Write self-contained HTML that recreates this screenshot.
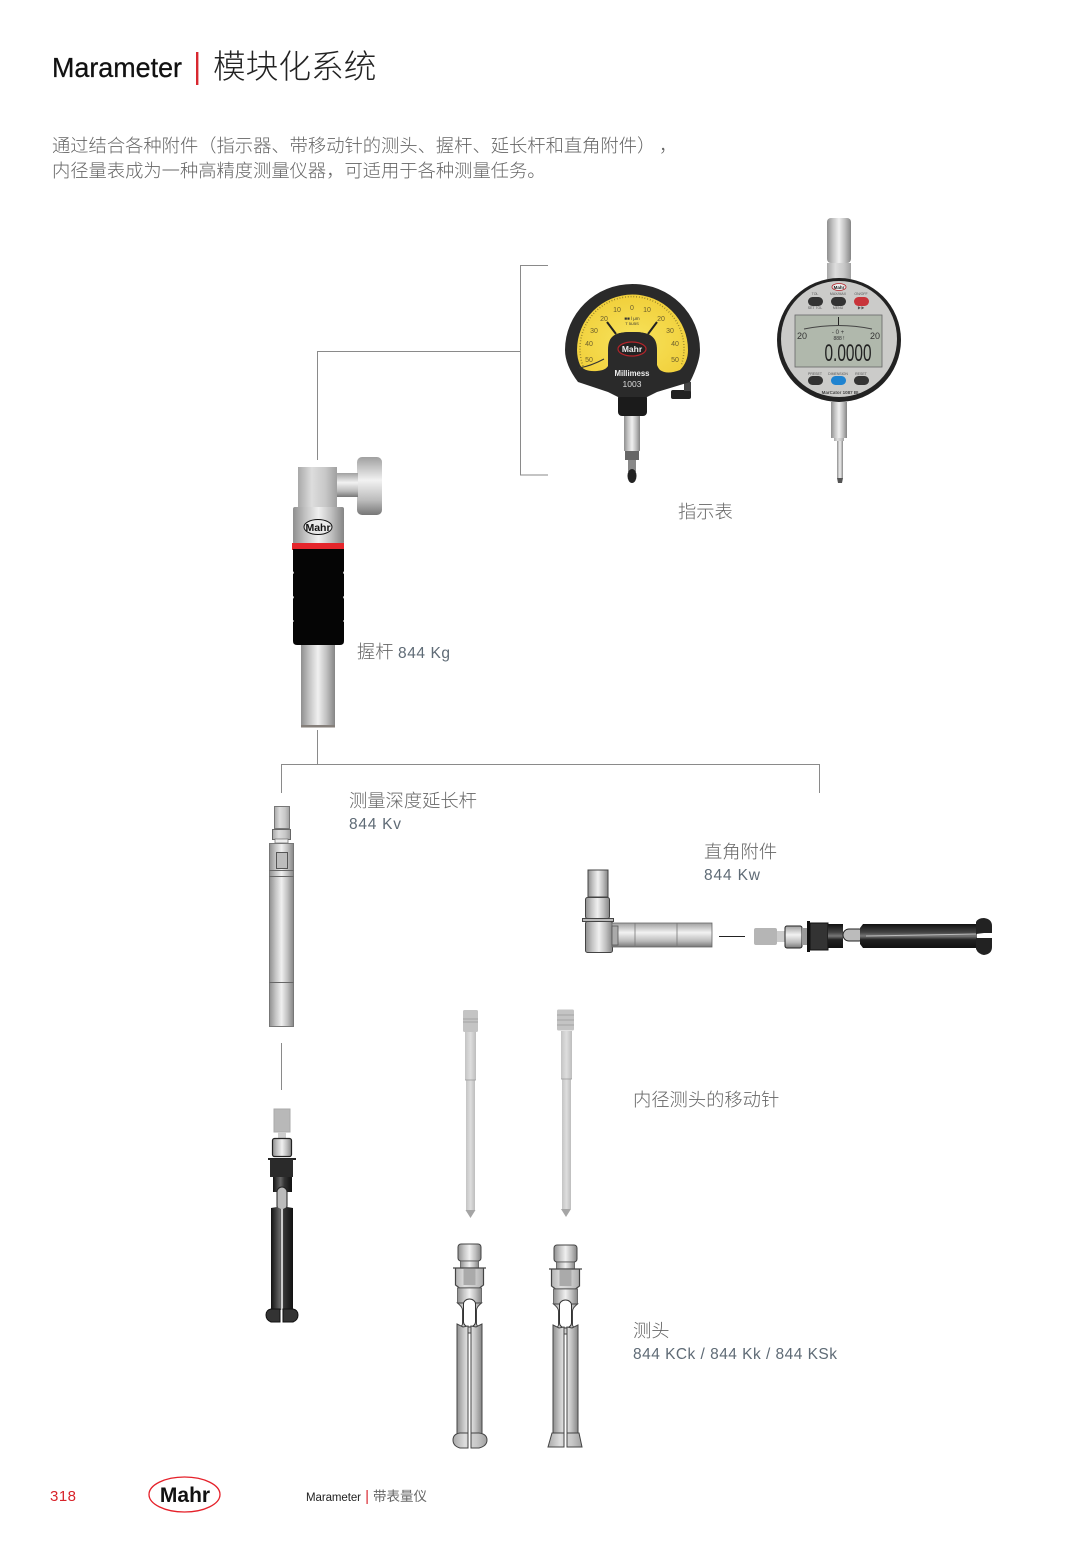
<!DOCTYPE html>
<html lang="zh"><head><meta charset="utf-8"><title>Marameter 模块化系统</title>
<style>html,body{margin:0;padding:0;background:#fff}svg{display:block}
text{font-family:"Liberation Sans","Noto Sans CJK SC",sans-serif;text-spacing-trim:space-all}
.c{font-size:18.3px;fill:#666;font-weight:300}
.l{font-size:15.5px;fill:#5f6b76;font-weight:300}</style></head><body>
<svg xmlns="http://www.w3.org/2000/svg" width="1091" height="1544" viewBox="0 0 1091 1544">
<defs>
<linearGradient id="h" x1="0" x2="1" y1="0" y2="0"><stop offset="0" stop-color="#8f8f8f"/><stop offset=".25" stop-color="#c4c4c4"/><stop offset=".5" stop-color="#f0f0f0"/><stop offset=".75" stop-color="#c0c0c0"/><stop offset="1" stop-color="#858585"/></linearGradient>
<linearGradient id="hs" x1="0" x2="1" y1="0" y2="0"><stop offset="0" stop-color="#a8a8a8"/><stop offset=".35" stop-color="#ddd"/><stop offset=".7" stop-color="#c8c8c8"/><stop offset="1" stop-color="#a0a0a0"/></linearGradient>
<linearGradient id="v" x1="0" x2="0" y1="0" y2="1"><stop offset="0" stop-color="#a0a0a0"/><stop offset=".4" stop-color="#f2f2f2"/><stop offset=".75" stop-color="#bbb"/><stop offset="1" stop-color="#777"/></linearGradient>
<linearGradient id="pin" x1="0" x2="1" y1="0" y2="0"><stop offset="0" stop-color="#c4c4c4"/><stop offset=".5" stop-color="#dedede"/><stop offset="1" stop-color="#bdbdbd"/></linearGradient>
<linearGradient id="dk" x1="0" x2="1" y1="0" y2="0"><stop offset="0" stop-color="#111"/><stop offset=".4" stop-color="#666"/><stop offset=".6" stop-color="#333"/><stop offset="1" stop-color="#111"/></linearGradient>
<linearGradient id="dkv" x1="0" x2="0" y1="0" y2="1"><stop offset="0" stop-color="#111"/><stop offset=".35" stop-color="#444"/><stop offset=".5" stop-color="#777"/><stop offset=".65" stop-color="#222"/><stop offset="1" stop-color="#111"/></linearGradient>
<radialGradient id="y" cx=".5" cy=".6" r=".6"><stop offset="0" stop-color="#f7e35c"/><stop offset="1" stop-color="#f1cf3a"/></radialGradient>
<g id="gp">
<rect x="-11.5" y="0" width="23" height="17" rx="3" fill="url(#h)" stroke="#444" stroke-width="1"/>
<rect x="-9" y="17" width="18" height="7" fill="url(#h)" stroke="#555" stroke-width=".8"/>
<path d="M-16.5 24H16.5M-14 24v17l4 3H10l4-3V24" fill="url(#hs)" stroke="#444" stroke-width="1.2"/>
<rect x="-6" y="25" width="12" height="16" fill="#aaa"/>
<rect x="-12" y="44" width="24" height="15" fill="url(#h)" stroke="#555" stroke-width=".8"/>
<path d="M-12 59q5 4 5 7v14q0 2-5 4v5l0 0H12v-5q-5-2-5-4V66q0-3 5-7z" fill="url(#hs)" stroke="#444" stroke-width="1"/>
<path d="M-6 60a6 5 0 0 1 12 0v18a6 5 0 0 1-12 0z" fill="#fff" stroke="#333" stroke-width="1"/>
<path d="M-12.5 80l6 3 5 -1V191h-11zM12.5 80l-6 3-5-1V191h11z" fill="url(#h)" stroke="#444" stroke-width="1"/>
</g>
</defs>

<!-- Header -->
<text x="52" y="77" font-size="28" fill="#111" stroke="#111" stroke-width=".3" textLength="130" lengthAdjust="spacingAndGlyphs">Marameter</text>
<rect x="196" y="52" width="2.4" height="33" fill="#d8272f"/>
<text x="213" y="78" font-size="32.7" fill="#222" font-weight="300">模块化系统</text>
<text x="52" y="152" class="c">通过结合各种附件（指示器、带移动针的测头、握杆、延长杆和直角附件）<tspan x="659">，</tspan></text>
<text x="52" y="177" class="c">内径量表成为一种高精度测量仪器，可适用于各种测量任务。</text>

<!-- Connectors -->
<g fill="none" stroke="#8a8a8a" stroke-width="1">
<path d="M548 265.500H520.500V475H548"/>
<path d="M520 351.500H317.500V460"/>
<path d="M317.500 730V764"/>
<path d="M281.500 793V764.500H819.500V793"/>
<path d="M281.500 1043V1090"/>
</g>
<path d="M719 936.500H745" stroke="#222" stroke-width="1"/>

<!-- Analog gauge -->
<rect x="624" y="415" width="16" height="36" fill="url(#h)"/>
<rect x="625" y="451" width="14" height="9" fill="#666"/>
<rect x="628" y="460" width="8" height="12" fill="#888"/>
<ellipse cx="632" cy="476" rx="4.500" ry="7" fill="#222"/>
<rect x="618" y="394" width="29" height="22" rx="4" fill="#1b1b1b"/>
<rect x="671" y="390" width="20" height="9" rx="2" fill="#222"/>
<rect x="684" y="382" width="7" height="9" fill="#444"/>
<path d="M565 350A67.500 66 0 0 1 700 350Q700 362 690 382L657 392 647 397H618L608 392 578 382Q565 365 565 350Z" fill="#2a2a2a"/>
<path d="M577 350A55 55 0 0 1 688 350Q688 362 680 370Q667 375 660 370 655 365 655 350C655 335 648 332 632 332 616 332 609 335 609 350V362Q609 370 597 371 584 372 580 365 577 358 577 350Z" fill="url(#y)"/>
<path d="M583 366A52 52 0 1 1 681 366" fill="none" stroke="#8a7a2a" stroke-width="1.500" stroke-dasharray=".8 2"/>
<path d="M607 322l9 12M657 322l-9 12" stroke="#222" stroke-width="2"/>
<path d="M579 368q12-2 25-9" stroke="#333" stroke-width="1" fill="none"/>
<g font-size="7" fill="#6b5d2c" text-anchor="middle">
<text x="617" y="312">10</text><text x="632" y="310">0</text><text x="647" y="312">10</text>
<text x="604" y="321">20</text><text x="661" y="321">20</text>
<text x="594" y="333">30</text><text x="670" y="333">30</text>
<text x="589" y="346">40</text><text x="675" y="346">40</text>
<text x="589" y="362">50</text><text x="675" y="362">50</text></g>
<text x="632" y="320" font-size="4.500" fill="#333" text-anchor="middle">■■ l μm</text>
<text x="632" y="325" font-size="4" fill="#333" text-anchor="middle">T 5U5S</text>
<path d="M608 392V350C608 335 616 332 632 332 648 332 657 335 657 350V392Z" fill="#2a2a2a"/>
<ellipse cx="632" cy="349" rx="14" ry="7" fill="#222" stroke="#b4242a" stroke-width="1.200"/>
<text x="632" y="352" font-size="8.500" font-weight="bold" fill="#eee" text-anchor="middle">Mahr</text>
<text x="632" y="376" font-size="8.500" font-weight="bold" fill="#eee" text-anchor="middle" textLength="35" lengthAdjust="spacingAndGlyphs">Millimess</text>
<text x="632" y="387" font-size="8.500" fill="#ddd" text-anchor="middle">1003</text>

<!-- Digital gauge -->
<rect x="827" y="218" width="24" height="45" rx="4" fill="url(#h)"/>
<rect x="827" y="263" width="24" height="16" fill="url(#hs)"/>
<rect x="831" y="402" width="16" height="36" fill="url(#h)"/>
<rect x="834" y="438" width="10" height="3" fill="url(#hs)"/>
<rect x="837" y="441" width="6" height="37" fill="url(#h)"/>
<path d="M837 478h6l-1 5h-4z" fill="#555"/>
<circle cx="839" cy="340" r="62" fill="#222"/>
<circle cx="839" cy="339" r="58" fill="#cbcbc9"/>
<ellipse cx="839" cy="287" rx="7" ry="3.500" fill="#eee" stroke="#b4242a" stroke-width=".8"/>
<text x="839" y="289" font-size="4.500" font-weight="bold" fill="#222" text-anchor="middle">Mahr</text>
<g fill="#333"><rect x="808" y="297" width="15" height="9" rx="4.500"/><rect x="831" y="297" width="15" height="9" rx="4.500"/><rect x="808" y="376" width="15" height="9" rx="4.500"/><rect x="854" y="376" width="15" height="9" rx="4.500"/></g>
<rect x="854" y="297" width="15" height="9" rx="4.500" fill="#c8343a"/>
<rect x="831" y="376" width="15" height="9" rx="4.500" fill="#1f83d0"/>
<rect x="795" y="315" width="87" height="52" fill="#b0b8ac" stroke="#666" stroke-width=".8"/>
<path d="M804 329q35-7 68 0" stroke="#444" fill="none" stroke-width="1"/>
<path d="M838.500 317v8" stroke="#222" stroke-width="1"/>
<g fill="#333" text-anchor="middle"><text x="802" y="339" font-size="9">20</text><text x="875" y="339" font-size="9">20</text><text x="838" y="334" font-size="6">- 0 +</text><text x="839" y="340" font-size="5">888 !</text>
<text x="848" y="361" font-size="24" textLength="47" lengthAdjust="spacingAndGlyphs" font-weight="300" fill="#222">0.0000</text></g>
<g fill="#555" font-size="3.500" text-anchor="middle"><text x="815" y="295">TOL</text><text x="838" y="295">MAX/MAX</text><text x="861" y="295">ON/OFF</text><text x="815" y="309">SET TOL</text><text x="838" y="309">MENU</text><text x="861" y="309">▶▶</text><text x="815" y="375">PRESET</text><text x="838" y="375">DIMENSION</text><text x="861" y="375">RESET</text></g>
<text x="840" y="394" font-size="4.500" font-weight="bold" fill="#444" text-anchor="middle">MarCator 1087 BI</text>

<!-- Handle -->
<text x="357" y="658" class="c">握杆</text><text x="398" y="658" class="l" textLength="52">844 Kg</text>
<rect x="357" y="457" width="25" height="58" rx="5" fill="url(#v)"/>
<rect x="337" y="473" width="21" height="24" fill="url(#v)"/>
<rect x="298" y="467" width="39" height="40" fill="url(#hs)"/>
<rect x="293" y="507" width="51" height="37" rx="2" fill="url(#h)"/>
<ellipse cx="318" cy="527" rx="14" ry="7.500" fill="#e8e8e8" stroke="#111" stroke-width="1"/>
<text x="318" y="531" font-size="10.500" font-weight="bold" fill="#111" text-anchor="middle">Mahr</text>
<rect x="292" y="543" width="52" height="7" fill="#e5262c"/>
<path d="M293 549H344V571l-1 2 1 1V596l-1 1 1 2V620l-1 1 1 1V641q0 4-4 4H297q-4 0-4-4V622l1-1-1-1V599l1-2-1-1V574l1-1-1-2Z" fill="#050505"/>
<rect x="301" y="645" width="34" height="80" fill="url(#h)"/>
<rect x="301" y="725" width="34" height="2.500" fill="#857f7a"/>

<!-- Depth extension -->
<text x="349" y="807" class="c">测量深度延长杆</text>
<text x="349" y="829" class="l" textLength="52">844 Kv</text>
<rect x="274.500" y="806.500" width="15" height="22" fill="url(#hs)" stroke="#777"/>
<rect x="272.500" y="829.500" width="18" height="10" fill="url(#hs)" stroke="#666"/>
<rect x="275" y="839" width="13" height="4" fill="#eee" stroke="#777" stroke-width=".8"/>
<rect x="269.500" y="843.500" width="24" height="183" fill="url(#h)" stroke="#777"/>
<rect x="276.500" y="852.500" width="11" height="16" fill="#bdbdbd" stroke="#555"/>
<path d="M269.500 870.500h24M269.500 876.500h24M269.500 982.500h24" stroke="#666" fill="none"/>

<!-- Black probe -->
<rect x="274" y="1109" width="16" height="23" fill="#b8b8b8" stroke="#aaa"/>
<rect x="278" y="1132" width="8" height="6" fill="#ccc"/>
<rect x="272.500" y="1138.500" width="19" height="18" rx="2" fill="url(#h)" stroke="#222" stroke-width="1.200"/>
<rect x="268" y="1158" width="28" height="2" fill="#222"/>
<rect x="270" y="1159" width="23" height="18" fill="#2a2a2a"/>
<rect x="273" y="1177" width="19" height="15" fill="url(#dk)"/>
<path d="M277 1192a5 5 0 0 1 10 0v14a5 4 0 0 1-10 0z" fill="#bbb" stroke="#222"/>
<path d="M271 1208l6-1 4 2v101h-10zM293 1208l-6-1-4 2v101h10z" fill="url(#dk)"/>
<rect x="281" y="1209" width="2" height="101" fill="#ccc"/>
<path d="M280 1309h-9q-5 1-5 6t5 7h9zM283 1309h10q5 1 5 6t-5 7h-10z" fill="#333" stroke="#111"/>

<!-- Pins -->
<g fill="url(#pin)">
<rect x="463" y="1010" width="15" height="22" rx="1.500" fill="#c4c4c4"/>
<rect x="465" y="1032" width="11" height="48"/><rect x="466" y="1080" width="9" height="130"/>
<path d="M465.500 1210h10l-5 8z" fill="#a5a5a5"/>
<rect x="557" y="1009.500" width="17" height="21" rx="1.500" fill="#c4c4c4"/>
<rect x="561" y="1031" width="11" height="48"/><rect x="562" y="1079" width="9" height="130"/>
<path d="M561 1209h10l-5 8z" fill="#a5a5a5"/>
</g>
<path d="M463 1019h15M463 1022h15M557 1015h17M557 1020h17M557 1025h17M465 1080h11M561 1079h11" stroke="#999" stroke-width=".8"/>

<!-- Grey probes -->
<use href="#gp" x="469.500" y="1244"/>
<use href="#gp" x="565.500" y="1245"/>
<path d="M468 1433H460q-7 1-7 7t7 8h8zM471 1433h8q8 1 8 7t-8 8h-8z" fill="url(#hs)" stroke="#444"/>
<path d="M564 1433H552l-4 14h16zM567 1433h12l3 14H567z" fill="url(#hs)" stroke="#444"/>

<!-- Right-angle -->
<text x="704" y="858" class="c">直角附件</text>
<text x="704" y="880" class="l" textLength="56">844 Kw</text>
<rect x="588" y="870" width="20" height="27" fill="url(#h)" stroke="#444"/>
<rect x="585.500" y="897.500" width="24" height="21" rx="2" fill="url(#h)" stroke="#444"/>
<rect x="582.500" y="918.500" width="31" height="3" fill="#bbb" stroke="#444"/>
<rect x="585.500" y="921.500" width="27" height="31" rx="2" fill="url(#h)" stroke="#444"/>
<rect x="612" y="923" width="100" height="24" fill="url(#v)" stroke="#666" stroke-width=".8"/>
<rect x="612" y="926" width="6" height="19" fill="#aaa" stroke="#555" stroke-width=".8"/>
<path d="M635 923v24M677 923v24" stroke="#777" stroke-width=".8"/>

<!-- Horizontal probe -->
<rect x="754" y="928" width="23" height="17" rx="2" fill="#b5b5b5"/>
<rect x="777" y="931" width="8" height="11" fill="#ccc"/>
<rect x="785" y="926" width="17" height="22" rx="2" fill="url(#v)" stroke="#222"/>
<rect x="802" y="928" width="6" height="17" fill="#999"/>
<rect x="807" y="921" width="3" height="31" fill="#111"/>
<rect x="810" y="923" width="18" height="27" fill="#333" stroke="#111"/>
<rect x="828" y="924" width="15" height="24" fill="url(#dkv)"/>
<rect x="843" y="929" width="22" height="12" rx="6" fill="#bbb" stroke="#222"/>
<path d="M863 924H977V948H863l-3-4V928z" fill="url(#dkv)"/>
<path d="M866 936l110-2" stroke="#bbb" stroke-width="1"/>
<path d="M976 934v-12q2-4 8-4 8 1 8 8v7h-8zM976 938v11q2 5 8 6 8-1 8-8v-9h-8z" fill="#222"/>

<!-- Labels -->
<text x="678" y="518" class="c">指示表</text>
<text x="633" y="1106" class="c">内径测头的移动针</text>
<text x="633" y="1337" class="c">测头</text>
<text x="633" y="1359" class="l" textLength="204" xml:space="preserve">844 KCk / 844 Kk / 844 KSk</text>

<!-- Footer -->
<text x="50" y="1501" font-size="15" fill="#d8232a" textLength="26">318</text>
<ellipse cx="184.500" cy="1494.500" rx="35.500" ry="17.500" fill="none" stroke="#e5212a" stroke-width="1.300"/>
<text x="185" y="1502" font-size="21" font-weight="bold" fill="#111" text-anchor="middle">Mahr</text>
<text x="306" y="1501" font-size="11.500" fill="#222" textLength="55">Marameter</text>
<rect x="366.500" y="1490" width="1.200" height="14" fill="#d8272f"/>
<text x="373" y="1501" font-size="13.500" fill="#666">带表量仪</text>
</svg>
</body></html>
